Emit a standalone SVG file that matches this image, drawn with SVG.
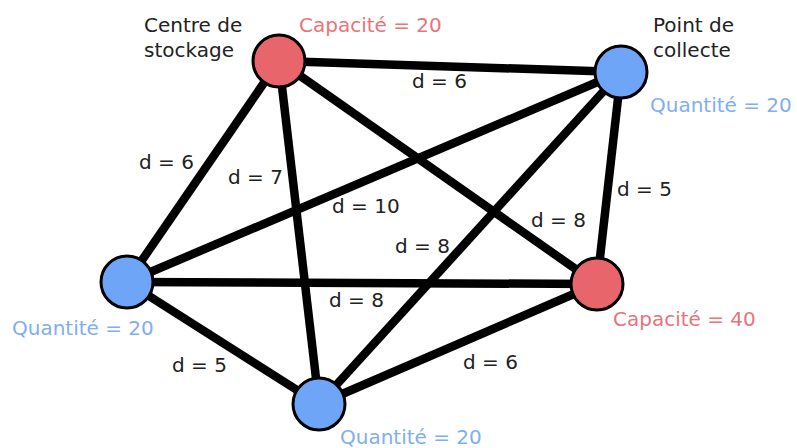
<svg xmlns="http://www.w3.org/2000/svg" width="797" height="448" viewBox="0 0 797 448">
<style>
.e{stroke:#000;stroke-width:8.5;fill:none}
.n{stroke:#000;stroke-width:3}
.red{fill:#E8666B}
.blue{fill:#6FA5F7}
text{font-family:"DejaVu Sans",Verdana,sans-serif;font-size:20px}
.t{fill:#222}
.tr{fill:#E8737A}
.tb{fill:#7FAEF2}
</style>
<rect width="797" height="448" fill="#fff"/>
<g id="connectors">
<line class="e" x1="279" y1="61" x2="621" y2="72"/>
<line class="e" x1="279" y1="61" x2="127" y2="282"/>
<line class="e" x1="279" y1="61" x2="319" y2="404"/>
<line class="e" x1="279" y1="61" x2="597" y2="284"/>
<line class="e" x1="621" y1="72" x2="127" y2="282"/>
<line class="e" x1="621" y1="72" x2="597" y2="284"/>
<line class="e" x1="621" y1="72" x2="319" y2="404"/>
<line class="e" x1="127" y1="282" x2="597" y2="284"/>
<line class="e" x1="127" y1="282" x2="319" y2="404"/>
<line class="e" x1="597" y1="284" x2="319" y2="404"/>
<text class="t" x="412" y="88">d = 6</text>
<text class="t" x="139" y="169">d = 6</text>
<text class="t" x="228" y="184">d = 7</text>
<text class="t" x="332" y="213">d = 10</text>
<text class="t" x="617" y="196">d = 5</text>
<text class="t" x="531" y="227">d = 8</text>
<text class="t" x="395" y="253">d = 8</text>
<text class="t" x="329" y="307">d = 8</text>
<text class="t" x="172" y="372">d = 5</text>
<text class="t" x="463" y="369">d = 6</text>
</g>
<g id="node-stockage1">
<circle class="n red" cx="279" cy="61" r="26"/>
<text class="t" x="144" y="32">Centre de</text>
<text class="t" x="144" y="57">stockage</text>
<text class="tr" x="299" y="32">Capacité = 20</text>
</g>
<g id="node-collecte1">
<circle class="n blue" cx="621" cy="72" r="26"/>
<text class="t" x="653" y="32">Point de</text>
<text class="t" x="653" y="57">collecte</text>
<text class="tb" x="650" y="112">Quantité = 20</text>
</g>
<g id="node-collecte2">
<circle class="n blue" cx="127" cy="282" r="26"/>
<text class="tb" x="12" y="335">Quantité = 20</text>
</g>
<g id="node-stockage2">
<circle class="n red" cx="597" cy="284" r="26"/>
<text class="tr" x="613" y="326">Capacité = 40</text>
</g>
<g id="node-collecte3">
<circle class="n blue" cx="319" cy="404" r="26"/>
<text class="tb" x="340" y="444">Quantité = 20</text>
</g>
</svg>
